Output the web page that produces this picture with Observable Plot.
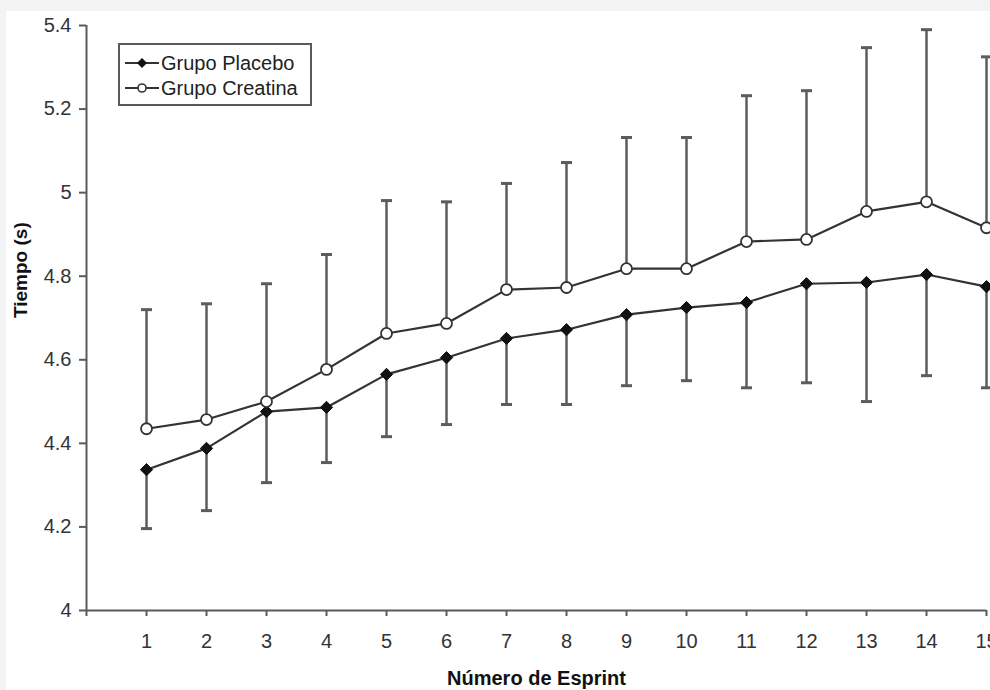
<!DOCTYPE html>
<html>
<head>
<meta charset="utf-8">
<script src="https://cdn.jsdelivr.net/npm/d3@7"></script>
<script src="https://cdn.jsdelivr.net/npm/@observablehq/plot@0.6"></script>
<style>
  html, body { margin: 0; padding: 0; background: #f3f3f3; overflow: hidden; }
  #frame { position: absolute; left: 6px; top: 11px; width: 984px; height: 679px; background: #ffffff; }
  #legend { position: absolute; left: 118px; top: 43px; width: 190px; height: 59px; border: 2px solid #5a5a5a; background: #fff;
            font-family: "Liberation Sans", Arial, sans-serif; font-size: 20px; color: #222; }
  #legend .row { position: absolute; left: 4px; height: 24px; display: flex; align-items: center; white-space: nowrap; }
  #legend svg { display: block; margin-right: 1px; }
</style>
</head>
<body>
<div id="frame"></div>
<div id="legend"></div>
<script>
// ---- data ----
const sprints = [1, 2, 3, 4, 5, 6, 7, 8, 9, 10, 11, 12, 13, 14, 15];
const placeboMean  = [4.337, 4.388, 4.476, 4.486, 4.565, 4.605, 4.651, 4.672, 4.708, 4.725, 4.737, 4.782, 4.785, 4.804, 4.775];
const placeboLower = [4.196, 4.239, 4.306, 4.354, 4.416, 4.445, 4.493, 4.493, 4.538, 4.550, 4.533, 4.545, 4.500, 4.562, 4.533];
const creatinaMean  = [4.435, 4.457, 4.500, 4.577, 4.663, 4.687, 4.768, 4.773, 4.818, 4.818, 4.883, 4.888, 4.955, 4.978, 4.916];
const creatinaUpper = [4.720, 4.734, 4.782, 4.852, 4.981, 4.978, 5.022, 5.072, 5.132, 5.132, 5.232, 5.244, 5.347, 5.390, 5.325];
const yTicks = [4, 4.2, 4.4, 4.6, 4.8, 5, 5.2, 5.4];
const xTicks = [0, 1, 2, 3, 4, 5, 6, 7, 8, 9, 10, 11, 12, 13, 14, 15];
const seriesNames = ["Grupo Placebo", "Grupo Creatina"];
const xTitle = "Número de Esprint";
const yTitle = "Tiempo (s)";

const placebo = sprints.map((s, i) => ({x: s, mean: placeboMean[i], end: placeboLower[i]}));
const creatina = sprints.map((s, i) => ({x: s, mean: creatinaMean[i], end: creatinaUpper[i]}));

const capSymbol = { draw(context) { context.moveTo(-5.5, 0); context.lineTo(5.5, 0); } };
const axisColor = "#5a5a5a";
const barColor = "#5c5c5c";
const lineColor = "#333333";

const chart = Plot.plot({
  width: 984,
  height: 679,
  marginLeft: 80,
  marginRight: 4,
  marginTop: 14,
  marginBottom: 80,
  style: { fontFamily: "'Liberation Sans', Arial, sans-serif", background: "transparent", overflow: "visible" },
  x: { domain: [0, 15] },
  y: { domain: [4, 5.4] },
  marks: [
    Plot.ruleX([0], { stroke: axisColor, strokeWidth: 2 }),
    Plot.ruleY([4], { stroke: axisColor, strokeWidth: 2 }),
    Plot.axisY({ ticks: yTicks, tickSize: 7, tickPadding: 8, fontSize: 20, color: "#333", stroke: axisColor, strokeWidth: 2,
                 tickFormat: d => String(+d.toFixed(1)), label: null }),
    Plot.axisX({ ticks: xTicks, tickSize: 6, tickPadding: 17, fontSize: 20, color: "#333", stroke: axisColor, strokeWidth: 2,
                 tickFormat: d => d === 0 ? "" : String(d), label: null }),
    Plot.text([xTitle], { frameAnchor: "bottom", dy: 74, text: d => d, fontSize: 20, fontWeight: "bold", fill: "#111" }),
    Plot.text([yTitle], { frameAnchor: "left", dx: -66, rotate: -90, text: d => d, fontSize: 19, fontWeight: "bold", fill: "#111" }),
    // error bars
    Plot.ruleX(creatina, { x: "x", y1: "mean", y2: "end", stroke: barColor, strokeWidth: 2.5 }),
    Plot.ruleX(placebo, { x: "x", y1: "end", y2: "mean", stroke: barColor, strokeWidth: 2.5 }),
    Plot.dot(creatina, { x: "x", y: "end", symbol: capSymbol, stroke: barColor, strokeWidth: 3, fill: "none" }),
    Plot.dot(placebo, { x: "x", y: "end", symbol: capSymbol, stroke: barColor, strokeWidth: 3, fill: "none" }),
    // lines
    Plot.line(placebo, { x: "x", y: "mean", stroke: lineColor, strokeWidth: 2.2 }),
    Plot.line(creatina, { x: "x", y: "mean", stroke: lineColor, strokeWidth: 2.2 }),
    // markers
    Plot.dot(placebo, { x: "x", y: "mean", symbol: "diamond2", r: 5.5, fill: "#111", stroke: "#111", strokeWidth: 1 }),
    Plot.dot(creatina, { x: "x", y: "mean", symbol: "circle", r: 5.5, fill: "#fff", stroke: lineColor, strokeWidth: 1.8 })
  ]
});
document.getElementById("frame").appendChild(chart);

// legend
const legend = document.getElementById("legend");
seriesNames.forEach((name, i) => {
  const row = document.createElement("div");
  row.className = "row";
  row.style.top = (i === 0 ? 6 : 31) + "px";
  const ns = "http://www.w3.org/2000/svg";
  const svg = document.createElementNS(ns, "svg");
  svg.setAttribute("width", 36); svg.setAttribute("height", 20);
  const ln = document.createElementNS(ns, "line");
  ln.setAttribute("x1", 1); ln.setAttribute("x2", 35); ln.setAttribute("y1", 10); ln.setAttribute("y2", 10);
  ln.setAttribute("stroke", lineColor); ln.setAttribute("stroke-width", 2);
  svg.appendChild(ln);
  if (i === 0) {
    const p = document.createElementNS(ns, "path");
    p.setAttribute("d", "M18,5 L23,10 L18,15 L13,10 Z");
    p.setAttribute("fill", "#111");
    svg.appendChild(p);
  } else {
    const c = document.createElementNS(ns, "circle");
    c.setAttribute("cx", 18); c.setAttribute("cy", 10); c.setAttribute("r", 4);
    c.setAttribute("fill", "#fff"); c.setAttribute("stroke", lineColor); c.setAttribute("stroke-width", 1.6);
    svg.appendChild(c);
  }
  row.appendChild(svg);
  const span = document.createElement("span");
  span.textContent = name;
  row.appendChild(span);
  legend.appendChild(row);
});
</script>
</body>
</html>
